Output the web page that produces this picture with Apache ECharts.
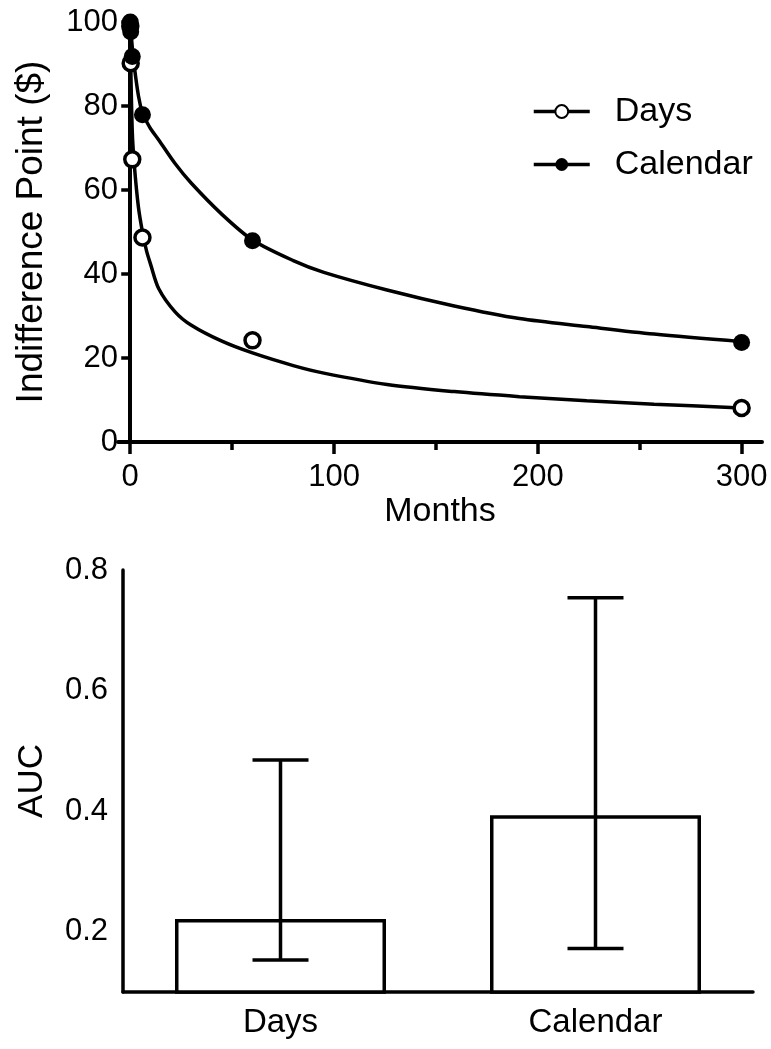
<!DOCTYPE html>
<html>
<head>
<meta charset="utf-8">
<script src="https://cdn.jsdelivr.net/npm/echarts@6/dist/echarts.min.js"></script>
<style>
  html, body { margin: 0; padding: 0; background: #fff; }
  #chart { width: 771px; height: 1049px; }
</style>
</head>
<body>
<div id="chart"></div>
<script>
// top panel: indifference points by delay (months)
const delays = [0.03, 0.23, 1, 6, 60, 300];
const daysPoints = [99, 90.2, 67.3, 48.7, 24.2, 8.1];
const calendarPoints = [100, 97.7, 91.8, 77.9, 47.9, 23.7];

// fitted curves
const fitMonths = [0, 0.25, 1, 2, 4, 6, 8, 10, 14, 22, 30, 45, 60, 80, 95, 126, 159, 191, 224, 257, 300];
const daysFit = [100, 90, 74, 66, 56, 50, 45.5, 42.3, 36.5, 31, 27.8, 24, 21.2, 18.2, 16.4, 13.7, 12, 10.8, 9.8, 9, 8.1];
const calendarFit = [100, 98.5, 94, 89.4, 82.5, 78.3, 76.3, 74.6, 71.9, 66.3, 61.6, 54.2, 48.1, 43.2, 40.4, 36.2, 32.4, 29.4, 27.5, 25.7, 23.9];

const xMajor = [0, 100, 200, 300];
const xMinor = [50, 150, 250];

// bottom panel: AUC
const groups = ['Days', 'Calendar'];
const aucValues = [0.221, 0.393];
const aucLow = [0.153, 0.172];
const aucHigh = [0.485, 0.754];
const aucMajor = [0.2, 0.4, 0.6, 0.8];
const aucMinor = [0.3, 0.5, 0.7];

const font = '"Liberation Sans", Arial, sans-serif';
const ink = '#000';
const tickFs = 31;
const nameFs = 34;

const pairs = (xs, ys) => xs.map((x, i) => [x, ys[i]]);

const chart = echarts.init(document.getElementById('chart'), null, { renderer: 'canvas' });

chart.setOption({
  animation: false,
  backgroundColor: '#fff',
  textStyle: { fontFamily: font, color: ink },
  legend: {
    data: ['Days', 'Calendar'],
    orient: 'vertical',
    left: 527,
    top: 88,
    itemWidth: 56,
    itemHeight: 16,
    itemGap: 16,
    lineStyle: { width: 3.5, color: ink },
    textStyle: { fontFamily: font, fontSize: nameFs, color: ink, padding: [0, 0, 0, 20], lineHeight: 37 }
  },
  grid: [
    { left: 118, top: 22, width: 644, height: 420 },
    { left: 123, top: 570, width: 630, height: 422 }
  ],
  xAxis: [
    {
      gridIndex: 0, type: 'value', min: -6, max: 310, position: 'bottom',
      name: 'Months', nameLocation: 'middle', nameGap: 53,
      nameTextStyle: { fontFamily: font, fontSize: nameFs, color: ink },
      axisLine: { onZero: false, lineStyle: { color: ink, width: 4 } },
      axisTick: { customValues: xMajor, length: 12, lineStyle: { color: ink, width: 3.5 } },
      axisLabel: { customValues: xMajor, margin: 20, fontSize: tickFs, color: ink, fontFamily: font },
      splitLine: { show: false }
    },
    {
      gridIndex: 0, type: 'value', min: -6, max: 310, position: 'bottom',
      axisLine: { show: false, onZero: false },
      axisTick: { customValues: xMinor, length: 8, lineStyle: { color: ink, width: 3.5 } },
      axisLabel: { show: false },
      splitLine: { show: false }
    },
    {
      gridIndex: 1, type: 'category', data: groups,
      axisLine: { lineStyle: { color: ink, width: 3.5 } },
      axisTick: { alignWithLabel: true, length: 11, lineStyle: { color: ink, width: 3.5 } },
      axisLabel: { margin: 14, fontSize: 33, color: ink, fontFamily: font }
    }
  ],
  yAxis: [
    {
      gridIndex: 0, type: 'value', min: 0, max: 100, interval: 20,
      name: 'Indifference Point ($)', nameLocation: 'middle', nameGap: 68,
      nameTextStyle: { fontFamily: font, fontSize: 37, color: ink },
      axisLine: { onZero: true, lineStyle: { color: ink, width: 4 } },
      axisTick: { length: 9, lineStyle: { color: ink, width: 3.5 } },
      axisLabel: { margin: 0, fontSize: tickFs, color: ink, fontFamily: font },
      splitLine: { show: false }
    },
    {
      gridIndex: 1, type: 'value', min: 0.1, max: 0.8,
      name: 'AUC', nameLocation: 'middle', nameGap: 73,
      nameTextStyle: { fontFamily: font, fontSize: 35, color: ink },
      axisLine: { show: true, lineStyle: { color: ink, width: 3.5 } },
      axisTick: { customValues: aucMajor, length: 11, lineStyle: { color: ink, width: 3.5 } },
      axisLabel: { customValues: aucMajor, margin: 15, fontSize: tickFs, color: ink, fontFamily: font,
        formatter: v => v.toFixed(1) },
      splitLine: { show: false }
    },
    {
      gridIndex: 1, type: 'value', min: 0.1, max: 0.8,
      axisLine: { show: false },
      axisTick: { customValues: aucMinor, length: 7, lineStyle: { color: ink, width: 3.5 } },
      axisLabel: { show: false },
      splitLine: { show: false }
    }
  ],
  series: [
    {
      name: 'Days', type: 'line', xAxisIndex: 0, yAxisIndex: 0,
      data: pairs(fitMonths, daysFit),
      smooth: 0.3, showSymbol: false,
      symbol: 'circle', symbolSize: 16,
      lineStyle: { color: ink, width: 3.5 },
      itemStyle: { color: '#fff', borderColor: ink, borderWidth: 3.5 },
      z: 2
    },
    {
      name: 'Calendar', type: 'line', xAxisIndex: 0, yAxisIndex: 0,
      data: pairs(fitMonths, calendarFit),
      smooth: 0.3, showSymbol: false,
      symbol: 'circle', symbolSize: 16,
      lineStyle: { color: ink, width: 3.5 },
      itemStyle: { color: ink, borderColor: ink, borderWidth: 0 },
      z: 2
    },
    {
      name: 'Days points', type: 'scatter', xAxisIndex: 0, yAxisIndex: 0,
      data: pairs(delays, daysPoints), symbol: 'circle', symbolSize: 15,
      itemStyle: { color: '#fff', borderColor: ink, borderWidth: 3.5, opacity: 1 },
      z: 3
    },
    {
      name: 'Calendar points', type: 'scatter', xAxisIndex: 0, yAxisIndex: 0,
      data: pairs(delays, calendarPoints), symbol: 'circle', symbolSize: 17,
      itemStyle: { color: ink, opacity: 1 },
      z: 4
    },
    {
      name: 'AUC', type: 'bar', xAxisIndex: 2, yAxisIndex: 1,
      data: aucValues, barWidth: 211,
      itemStyle: { color: '#fff', borderColor: ink, borderWidth: 3.5 },
      z: 2
    },
    {
      name: 'AUC range', type: 'custom', xAxisIndex: 2, yAxisIndex: 1,
      data: groups.map((g, i) => [i, aucLow[i], aucHigh[i]]),
      z: 3,
      renderItem: (params, api) => {
        const lo = api.coord([api.value(0), api.value(1)]);
        const hi = api.coord([api.value(0), api.value(2)]);
        const half = 28;
        const style = { stroke: ink, lineWidth: 3.5, fill: null };
        return {
          type: 'group',
          children: [
            { type: 'line', shape: { x1: lo[0], y1: lo[1], x2: hi[0], y2: hi[1] }, style },
            { type: 'line', shape: { x1: lo[0] - half, y1: lo[1], x2: lo[0] + half, y2: lo[1] }, style },
            { type: 'line', shape: { x1: hi[0] - half, y1: hi[1], x2: hi[0] + half, y2: hi[1] }, style }
          ]
        };
      }
    }
  ]
});
</script>
</body>
</html>
